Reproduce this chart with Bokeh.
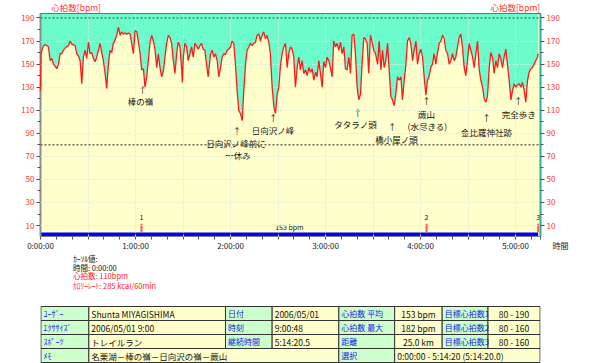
from bokeh.plotting import figure
from bokeh.models import Range1d, LinearAxis, FixedTicker, Span, ColumnDataSource
from bokeh.layouts import column
from bokeh.embed import file_html
from bokeh.resources import INLINE
from bokeh.core.properties import value

# ---------------- data: heart rate vs elapsed time (minutes) ----------------
t1 = [0.0, 0.4, 1.9, 3.0, 4.0, 5.0, 6.1, 7.2, 8.2, 9.3,
      10.3, 11.4, 12.4, 13.5, 14.5, 15.6, 16.6, 17.7, 18.7, 19.8,
      20.8, 21.9, 22.9, 24.0, 25.0, 26.1, 27.1, 28.2, 29.2, 30.3,
      31.3, 32.4, 33.4, 34.5, 35.5, 36.6, 37.6, 38.7, 39.7, 40.8,
      41.8, 42.9, 43.9, 45.0, 46.0, 47.1, 48.2, 49.2, 50.3, 51.3,
      52.4, 53.4, 54.5, 55.5, 56.6, 57.6, 58.7, 59.7, 60.8, 61.8,
      62.9, 63.9, 65.0, 66.0, 67.1, 68.1, 69.2, 70.2, 71.3, 72.3,
      73.4, 74.4, 75.5, 76.5, 77.6, 78.6, 79.7, 80.7, 81.8, 82.8,
      83.9, 84.9, 86.0, 87.0, 88.1, 89.1, 89.6, 90.2, 91.2, 92.3,
      93.3, 94.4, 95.4, 96.5, 97.5, 98.6, 99.6, 100.7, 101.7, 102.8,
      103.8, 104.9, 105.9]
hr1 = [127, 160, 166, 167, 166, 165, 153, 155, 150, 148,
       146, 150, 159, 159, 162, 164, 165, 166, 170, 167,
       167, 166, 159, 157, 153, 133, 156, 162, 155, 169,
       159, 160, 155, 152, 156, 162, 168, 160, 153, 142,
       129, 150, 162, 160, 168, 171, 175, 182, 175, 178,
       176, 177, 176, 177, 176, 168, 159, 179, 178, 170,
       159, 145, 146, 130, 139, 153, 169, 175, 170, 163,
       147, 159, 147, 139, 144, 156, 168, 175, 173, 168,
       153, 142, 159, 169, 165, 147, 134, 156, 168, 165,
       153, 159, 165, 156, 168, 166, 163, 166, 168, 163,
       162, 150, 139]

t2 = [107.4, 108.4, 109.5, 110.5, 111.6, 112.6, 113.7, 114.7, 115.8, 116.8,
      117.9, 118.9, 120.0, 121.0, 122.1, 123.1, 124.2, 125.2, 126.3, 127.4,
      128.4, 129.5, 130.5, 131.6, 132.6, 133.7, 134.7, 135.8, 136.8, 137.9,
      138.9, 140.0, 141.0, 142.1, 143.1, 144.2, 145.2, 146.3, 147.4, 148.4,
      149.5, 150.5, 151.6, 152.6, 153.7, 154.7, 155.8, 156.8, 157.9, 158.9,
      160.0, 161.0, 162.1, 163.1, 164.2, 165.2, 166.3, 167.4, 168.4, 169.5,
      170.5, 171.6, 172.6, 173.7, 174.7, 175.8, 176.8, 177.9, 178.9, 180.0,
      181.0, 182.1, 183.1, 184.2, 185.2, 186.3, 187.3, 188.4, 189.5, 190.5,
      191.6, 192.6, 193.7, 194.7, 195.8, 196.8, 197.9, 198.9, 200.0, 201.0,
      202.1, 203.1, 204.2, 205.2, 206.3, 207.3, 208.4, 209.5, 210.5, 211.6]
hr2 = [159, 162, 156, 159, 153, 139, 147, 156, 159, 158,
       162, 163, 165, 170, 168, 150, 127, 110, 107, 101,
       127, 150, 162, 165, 168, 166, 168, 169, 175, 176,
       170, 175, 178, 172, 175, 169, 159, 130, 113, 107,
       124, 130, 149, 159, 165, 168, 147, 159, 165, 163,
       156, 130, 147, 156, 145, 153, 142, 145, 140, 147,
       143, 146, 136, 143, 139, 153, 142, 130, 152, 147,
       156, 153, 147, 139, 170, 165, 168, 162, 169, 159,
       165, 146, 145, 156, 142, 175, 176, 159, 130, 119,
       124, 150, 173, 172, 168, 142, 175, 169, 162, 159]

t3 = [212.9, 213.9, 215.0, 216.0, 217.1, 218.1, 219.2, 220.2, 221.3, 222.3,
      223.4, 224.4, 225.5, 226.5, 227.6, 228.6, 229.7, 230.8, 231.8, 232.9,
      233.9, 235.0, 236.0, 237.1, 238.1, 239.2, 240.2, 241.3, 242.3, 243.4,
      244.4, 245.5, 246.5, 247.6, 248.6, 249.7, 250.7, 251.8, 252.9, 253.9,
      255.0, 256.0, 257.1, 258.1, 259.2, 260.2, 261.3, 262.3, 263.4, 264.4,
      265.5, 266.5, 267.6, 268.6, 269.7, 270.7, 271.8, 272.9, 273.9, 275.0,
      276.0, 277.1, 278.1, 279.2, 280.2, 281.3, 282.3, 283.4, 284.4, 285.5,
      286.5, 287.6, 288.6, 289.7, 290.7, 291.8, 292.8, 293.9, 294.9, 296.0,
      297.1, 298.1, 299.2, 300.2, 301.3, 302.3, 303.4, 304.4, 305.5, 306.5,
      307.6, 308.6, 309.7, 310.7, 311.8, 312.8, 313.9, 314.3]
hr3 = [150, 170, 145, 162, 147, 153, 168, 145, 122, 119,
       114, 124, 139, 136, 139, 119, 136, 150, 170, 173,
       168, 153, 162, 170, 150, 159, 163, 156, 139, 123,
       136, 140, 147, 150, 159, 150, 159, 168, 170, 175,
       172, 162, 159, 150, 153, 159, 153, 156, 165, 173,
       176, 165, 147, 140, 153, 168, 162, 156, 147, 159,
       170, 145, 136, 130, 120, 117, 122, 147, 160, 156,
       142, 153, 147, 159, 155, 147, 156, 163, 150, 136,
       119, 127, 133, 130, 132, 133, 130, 134, 127, 117,
       136, 143, 146, 147, 150, 153, 156, 159]

elapsed_min = t1 + t2 + t3
heart_rate = hr1 + hr2 + hr3

hour_ticks = [0, 60, 120, 180, 240, 300]
hour_labels = ["0:00:00", "1:00:00", "2:00:00", "3:00:00", "4:00:00", "5:00:00"]
hr_ticks = [10, 30, 50, 70, 90, 110, 130, 150, 170, 190]
hr_minor_ticks = [20, 40, 60, 80, 100, 120, 140, 160, 180]
y_axis_title = "心拍数[bpm]"
x_axis_title = "時間"

zone_low, zone_high = 80, 190
sel_start, sel_end = 0.0, 314.33
avg_hr = 153
lap_times = [63.8, 243.8, 314.3]
lap_names = ["1", "2", "3"]

ann_text = ["↑", "棒の嶺",
            "↑", "日向沢ノ峰前に", "一休み",
            "↑", "日向沢ノ峰",
            "↑", "タタラノ頭",
            "↑", "橋小屋ノ頭",
            "↑", "蕨山", "(水尽きる)",
            "↑", "金比羅神社跡",
            "↑", "完全歩き"]
ann_x = [64.4, 63.2,
         124.1, 123.5, 124.7,
         147.0, 146.8,
         200.4, 199.0,
         222.1, 224.8,
         243.8, 243.8, 244.4,
         281.7, 281.7,
         301.7, 302.1]
ann_y = [128.1, 118.4,
         92.7, 81.7, 71.0,
         104.2, 92.7,
         108.5, 97.9,
         96.7, 85.3,
         119.1, 107.1, 96.7,
         104.2, 91.2,
         118.6, 106.5]

cursor_lines = ["ｶｰｿﾙ値:", "時間: 0:00:00", "心拍数: 110bpm", "ｶﾛﾘｰﾚｰﾄ: 285 kcal/60min"]
cursor_colors = ["#111111", "#111111", "#ff2020", "#ff2020"]

info_labels = [["ﾕｰｻﾞｰ", "日付", "心拍数 平均", "目標心拍数1"],
               ["ｴｸｻｻｲｽﾞ", "時刻", "心拍数 最大", "目標心拍数2"],
               ["ｽﾎﾟｰﾂ", "継続時間", "距離", "目標心拍数3"]]
info_values = [["Shunta MIYAGISHIMA", "2006/05/01", "153 bpm", "80 - 190"],
               ["2006/05/01 9:00", "9:00:48", "182 bpm", "80 - 160"],
               ["トレイルラン", "5:14:20.5", "25.0 km", "80 - 160"]]
memo_label, memo_text = "ﾒﾓ", "名栗湖－棒の嶺－日向沢の嶺－蕨山"
sel_label, sel_text = "選択", "0:00:00 - 5:14:20 (5:14:20.0)"

# ---------------- styling ----------------
FONT = "Noto Sans CJK JP"
RED = "#ff3333"
Y_MIN, Y_TOP = 0.5, 193.9
X_END = 500 / 95 * 60

# --- top strip: axis titles ---
top = figure(width=600, height=13, x_range=Range1d(0, 600), y_range=Range1d(13, 0),
             output_backend="svg", toolbar_location=None, min_border=0,
             x_axis_location=None, y_axis_location=None, outline_line_color=None,
             background_fill_color="#ffffff", border_fill_color="#ffffff")
top.grid.visible = False
top.text(x=[13, 540], y=[6.5, 6.5], text=[y_axis_title, y_axis_title], text_color=RED,
         text_font=value(FONT), text_font_size="8.5px", text_align="left", text_baseline="middle")

# --- chart ---
p = figure(width=600, height=240, x_range=Range1d(0, X_END), y_range=Range1d(Y_MIN, Y_TOP),
           output_backend="svg", toolbar_location=None,
           min_border_left=40, min_border_right=60, min_border_top=0, min_border_bottom=16,
           background_fill_color="#ffffcc", border_fill_color="#ffffff",
           outline_line_color="#505050", outline_line_width=1)

p.varea(x=elapsed_min, y1=heart_rate, y2=Y_TOP, fill_color="#6cfccc")

p.xgrid.ticker = FixedTicker(ticks=[30, 60, 90, 120, 150, 180, 210, 240, 270, 300])
p.ygrid.ticker = FixedTicker(ticks=hr_ticks[:-1])
p.grid.grid_line_color = "#d8eedc"
p.grid.grid_line_dash = "2 2"
p.grid.level = "guide"

r = p.line(elapsed_min, heart_rate, line_color="#ff1a1a", line_width=1.3)
r.level = "annotation"

p.add_layout(Span(location=zone_high, dimension="width", line_color="#2f8f6f",
                  line_dash="2 2", line_width=1.5))
p.add_layout(Span(location=zone_low, dimension="width", line_color="#6a6a5a",
                  line_dash="2 2", line_width=1.5))

p.quad(left=[sel_start], right=[sel_end], bottom=Y_MIN, top=4, fill_color="#0000ff", line_color=None)
p.segment(x0=lap_times, y0=4, x1=lap_times, y1=11.5, line_color="#ff5a5a", line_width=2)
p.text(x=lap_times, y=17.5, text=lap_names, text_font=value(FONT), text_font_size="7px",
       text_align="center", text_baseline="middle", text_color="#111111")
p.text(x=[(sel_start + sel_end) / 2], y=[8.6], text=[f"{avg_hr} bpm"], text_font=value(FONT),
       text_font_size="7px", text_align="center", text_baseline="middle", text_color="#111111")

src = ColumnDataSource(dict(x=ann_x, y=ann_y, text=ann_text))
p.text(x="x", y="y", text="text", source=src, text_font=value(FONT), text_font_size="8.5px",
       text_align="center", text_baseline="middle", text_color="#111111")

# x axis; the axis title "時間" hangs off its right end (padded with ideographic spaces)
title_tick = X_END - 0.01
xa = p.xaxis[0]
xa.ticker = FixedTicker(ticks=hour_ticks + [title_tick],
                        minor_ticks=[m for m in range(10, 320, 10) if m % 60])
overrides = dict(zip(hour_ticks, hour_labels))
overrides[title_tick] = "\u3000" * 5 + x_axis_title
xa.major_label_overrides = overrides
xa.axis_line_color = "#808080"
xa.major_tick_line_color = "#505050"
xa.minor_tick_line_color = "#505050"
xa.major_tick_in = 0
xa.major_tick_out = 3
xa.minor_tick_in = 0
xa.minor_tick_out = 3
xa.major_label_standoff = 0
xa.major_label_text_font = FONT
xa.major_label_text_font_size = "8px"
xa.major_label_text_color = "#222222"

def style_y(ax, line_color):
    ax.ticker = FixedTicker(ticks=hr_ticks, minor_ticks=hr_minor_ticks)
    ax.axis_line_color = line_color
    ax.axis_line_width = 2
    ax.major_tick_line_color = "#505050"
    ax.minor_tick_line_color = "#505050"
    ax.major_tick_in = 0
    ax.major_tick_out = 4
    ax.minor_tick_in = 0
    ax.minor_tick_out = 3
    ax.major_label_standoff = 2
    ax.major_label_text_font = FONT
    ax.major_label_text_font_size = "8px"
    ax.major_label_text_color = RED

style_y(p.yaxis[0], "#8c8c8c")
ra = LinearAxis()
style_y(ra, "#20b2a0")
p.add_layout(ra, "right")

# --- bottom strip: cursor info + summary table ---
tb = figure(width=600, height=110, x_range=Range1d(0, 600), y_range=Range1d(363, 253),
            output_backend="svg", toolbar_location=None, min_border=0,
            x_axis_location=None, y_axis_location=None, outline_line_color=None,
            background_fill_color="#ffffff", border_fill_color="#ffffff")
tb.grid.visible = False

tb.text(x=[39] * 4, y=[258, 266.7, 275, 284.7], text=cursor_lines, text_color=cursor_colors,
        text_font=value(FONT), text_font_size="7.5px", text_align="left", text_baseline="middle")

col_edges = [0.5, 58, 222, 278, 358, 425, 482, 537, 599.5]
row_edges = [306, 320, 334, 348, 362]

cells = []
for ri in range(3):
    for ci in range(4):
        cells.append((2 * ci, 2 * ci + 1, ri, info_labels[ri][ci], True))
        cells.append((2 * ci + 1, 2 * ci + 2, ri, info_values[ri][ci], False))
cells += [(0, 1, 3, memo_label, True), (1, 4, 3, memo_text, False),
          (4, 5, 3, sel_label, True), (5, 8, 3, sel_text, False)]

q = dict(left=[], right=[], top=[], bottom=[], fill=[])
groups = {k: dict(x=[], y=[], text=[], color=[]) for k in ("label", "left", "center")}
for cs, ce, ri, text, is_label in cells:
    L, R = col_edges[cs], col_edges[ce]
    T, B = row_edges[ri], row_edges[ri + 1]
    q["left"].append(L); q["right"].append(R); q["top"].append(T); q["bottom"].append(B)
    q["fill"].append("#ccffcc" if is_label else "#ffffcc")
    centered = (not is_label) and ce - cs == 1 and cs in (5, 7)
    key = "label" if is_label else ("center" if centered else "left")
    g = groups[key]
    g["x"].append((L + R) / 2 if centered else L + 3)
    g["y"].append((T + B) / 2)
    g["text"].append(text)
    g["color"].append("#1a1ae6" if is_label else "#111111")

tb.quad(left="left", right="right", top="top", bottom="bottom", fill_color="fill",
        line_color="#333333", line_width=1, source=ColumnDataSource(q))
tb.text(x="x", y="y", text="text", text_color="color", source=ColumnDataSource(groups["label"]),
        text_font=value(FONT), text_font_size="8px", text_align="left", text_baseline="middle")
tb.text(x="x", y="y", text="text", text_color="color", source=ColumnDataSource(groups["left"]),
        text_font=value(FONT), text_font_size="8.5px", text_align="left", text_baseline="middle")
tb.text(x="x", y="y", text="text", text_color="color", source=ColumnDataSource(groups["center"]),
        text_font=value(FONT), text_font_size="8.5px", text_align="center", text_baseline="middle")

layout = column(top, p, tb, spacing=0)
open("out.html", "w").write(file_html(layout, INLINE))
